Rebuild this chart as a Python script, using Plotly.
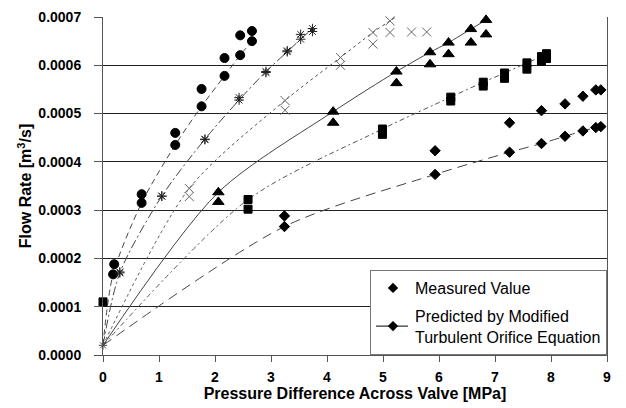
import plotly.graph_objects as go

# ---------------- data ----------------
# Circles
circ_x_meas = [0.20, 0.69, 1.29, 1.76, 2.17, 2.45, 2.66]
circ_y_meas = [0.000188, 0.000333, 0.000460, 0.000551, 0.000615, 0.000662, 0.000671]
circ_x_pred = [0.0, 0.18, 0.69, 1.29, 1.76, 2.17, 2.45, 2.66]
circ_y_pred = [0.000020, 0.000167, 0.000315, 0.000435, 0.000515, 0.000578, 0.000621, 0.000650]

# Asterisks
ast_x_meas = [0.30, 1.05, 1.82, 2.43, 2.91, 3.29, 3.53, 3.74]
ast_y_meas = [0.000172, 0.000329, 0.000446, 0.000533, 0.000585, 0.000630, 0.000664, 0.000670]
ast_x_pred = [0.0, 0.30, 1.05, 1.82, 2.43, 2.91, 3.29, 3.53, 3.74]
ast_y_pred = [0.000020, 0.000170, 0.000329, 0.000447, 0.000528, 0.000587, 0.000628, 0.000654, 0.000676]

# Crosses
crs_x_meas = [1.54, 3.25, 4.24, 4.82, 5.125, 5.51, 5.78]
crs_y_meas = [0.000328, 0.000507, 0.000600, 0.000644, 0.000668, 0.000669, 0.000669]
crs_x_pred = [0.0, 1.54, 3.25, 4.24, 4.82, 5.125, 5.51, 5.78]
crs_y_pred = [0.000020, 0.000345, 0.000527, 0.000616, 0.000668, 0.000692, 0.000720, 0.000740]

# Triangles
tri_x_meas = [2.06, 4.11, 5.24, 5.84, 6.17, 6.57, 6.84]
tri_y_meas = [0.000317, 0.000481, 0.000563, 0.000602, 0.000623, 0.000647, 0.000664]
tri_x_pred = [0.0, 2.06, 4.11, 5.24, 5.84, 6.17, 6.57, 6.84]
tri_y_pred = [0.000020, 0.000337, 0.000504, 0.000587, 0.000627, 0.000647, 0.000675, 0.000694]

# Squares
sq_x_meas = [0.0, 2.59, 4.99, 6.21, 6.79, 7.17, 7.57, 7.83, 7.92]
sq_y_meas = [0.000110, 0.000302, 0.000457, 0.000526, 0.000557, 0.000573, 0.000592, 0.000608, 0.000614]
sq_x_pred = [0.0, 2.59, 4.99, 6.21, 6.79, 7.17, 7.57, 7.83, 7.92]
sq_y_pred = [0.000020, 0.000322, 0.000468, 0.000534, 0.000565, 0.000584, 0.000605, 0.000618, 0.000624]

# Diamonds
dia_x_meas = [3.24, 5.93, 7.26, 7.83, 8.25, 8.57, 8.80, 8.89]
dia_y_meas = [0.000288, 0.000423, 0.000481, 0.000506, 0.000520, 0.000536, 0.000549, 0.000549]
dia_x_pred = [0.0, 3.24, 5.93, 7.26, 7.83, 8.25, 8.57, 8.80, 8.89]
dia_y_pred = [0.000020, 0.000266, 0.000374, 0.000420, 0.000438, 0.000453, 0.000464, 0.000471, 0.000473]

x_ticks = [0, 1, 2, 3, 4, 5, 6, 7, 8, 9]
y_ticks = [0.0, 0.0001, 0.0002, 0.0003, 0.0004, 0.0005, 0.0006, 0.0007]
Y_MAX = 0.0007

# ---------------- styles ----------------
series = [
    # name, xm, ym, xp, yp, symbol, size, mcolor, line dash, line color
    ("circ", circ_x_meas, circ_y_meas, circ_x_pred, circ_y_pred, "circle", 9, "black", "6px,4px", "#444"),
    ("ast", ast_x_meas, ast_y_meas, ast_x_pred, ast_y_pred, "asterisk-open", 8, "#222", "9px,3px,2px,3px", "#444"),
    ("crs", crs_x_meas, crs_y_meas, crs_x_pred, crs_y_pred, "x-thin-open", 9, "#666", "3px,3px", "#555"),
    ("tri", tri_x_meas, tri_y_meas, tri_x_pred, tri_y_pred, "triangle-up", 10, "black", "solid", "#444"),
    ("sq", sq_x_meas, sq_y_meas, sq_x_pred, sq_y_pred, "square", 8, "black", "5px,3px,2px,3px", "#555"),
    ("dia", dia_x_meas, dia_y_meas, dia_x_pred, dia_y_pred, "diamond", 8, "black", "10px,6px", "#444"),
]

fig = go.Figure()

for name, xm, ym, xp, yp, sym, size, mcol, dash, lcol in series:
    # predicted line (smoothed)
    fig.add_trace(go.Scatter(
        x=xp, y=yp, mode="lines", showlegend=False, hoverinfo="skip",
        line=dict(color=lcol, width=1, dash=dash, shape="spline", smoothing=0.8),
    ))

for name, xm, ym, xp, yp, sym, size, mcol, dash, lcol in series:
    # predicted markers (skip origin and out-of-range points)
    px = [x for x, y in zip(xp, yp) if x > 0 and y <= Y_MAX]
    py = [y for x, y in zip(xp, yp) if x > 0 and y <= Y_MAX]
    marker = dict(symbol=sym, size=size, color=mcol, line=dict(color=mcol, width=1))
    fig.add_trace(go.Scatter(x=px, y=py, mode="markers", marker=marker,
                             showlegend=False, cliponaxis=False))
    fig.add_trace(go.Scatter(x=xm, y=ym, mode="markers", marker=marker,
                             showlegend=False, cliponaxis=False))

# origin asterisk mark
fig.add_trace(go.Scatter(x=[0.0], y=[0.000020], mode="markers", showlegend=False,
                         marker=dict(symbol="asterisk-open", size=7, color="#444",
                                     line=dict(color="#444", width=1)), cliponaxis=False))

# legend entries
fig.add_trace(go.Scatter(x=[None], y=[None], mode="markers", name="Measured Value",
                         legendgroup="a",
                         marker=dict(symbol="diamond", size=8, color="black")))
fig.add_trace(go.Scatter(x=[None], y=[None], mode="lines+markers",
                         name="Predicted by Modified<br>Turbulent Orifice Equation",
                         legendgroup="b",
                         marker=dict(symbol="diamond", size=8, color="black"),
                         line=dict(color="black", width=1, dash="14px,4px")))

font_family = "Liberation Sans, Arial, sans-serif"

fig.update_layout(
    width=626, height=408,
    margin=dict(l=103, r=19, t=17, b=53),
    paper_bgcolor="white", plot_bgcolor="white",
    font=dict(family=font_family, size=14, color="black"),
    showlegend=True,
    legend=dict(
        x=1, xanchor="right", y=0, yanchor="bottom",
        bgcolor="white", bordercolor="#777", borderwidth=1,
        font=dict(size=16, color="black", family=font_family),
        tracegroupgap=4, itemwidth=34,
    ),
)

fig.update_xaxes(
    range=[0, 9], tickvals=x_ticks, ticktext=["<b>%d</b>" % v for v in x_ticks],
    showgrid=False, zeroline=False, automargin=False,
    showline=True, linecolor="#555", linewidth=1,
    ticks="outside", ticklen=6, tickcolor="#555", ticklabelstandoff=3,
    tickfont=dict(size=14, family=font_family),
    title=dict(text="<b>Pressure Difference Across Valve [MPa]</b>",
               font=dict(size=16, family=font_family), standoff=2),
)
fig.update_yaxes(
    range=[0, Y_MAX], tickvals=y_ticks, ticktext=["<b>%.4f</b>" % v for v in y_ticks],
    showgrid=True, gridcolor="#222", gridwidth=1,
    zeroline=False, automargin=False,
    showline=True, linecolor="#555", linewidth=1, mirror=True,
    ticks="outside", ticklen=8, tickcolor="#555", ticklabelstandoff=10,
    tickfont=dict(size=14, family=font_family),
    title=dict(text="<b>Flow Rate [m<sup>3</sup>/s]</b>",
               font=dict(size=16, family=font_family), standoff=2),
)

fig.write_html("out.html")
